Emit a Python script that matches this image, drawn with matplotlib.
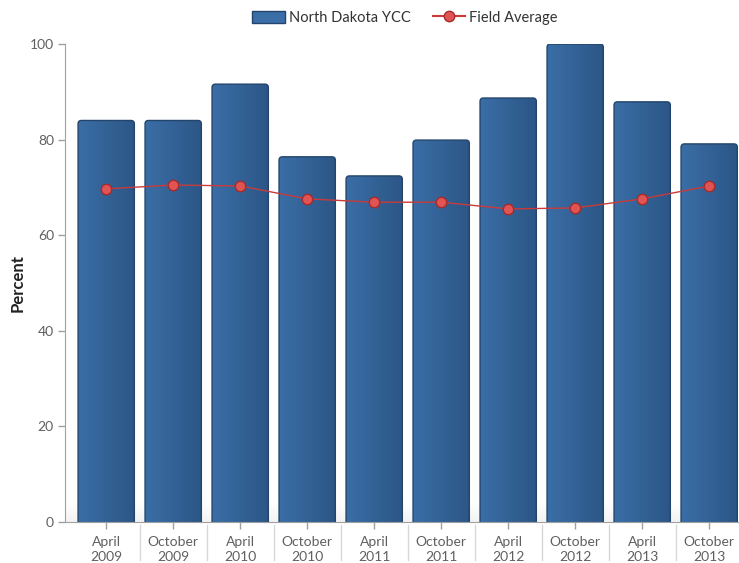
import numpy as np
import matplotlib
matplotlib.use("Agg")
from matplotlib import pyplot as plt
from matplotlib.patches import FancyBboxPatch, Rectangle
from matplotlib.lines import Line2D

plt.rcParams["font.family"] = ["Lato", "DejaVu Sans"]

periods = ["April\n2009", "October\n2009", "April\n2010", "October\n2010", "April\n2011",
           "October\n2011", "April\n2012", "October\n2012", "April\n2013", "October\n2013"]
nd_ycc = [84, 84, 91.6, 76.4, 72.4, 79.9, 88.7, 100, 87.9, 79.1]
field_avg = [69.7, 70.5, 70.3, 67.6, 66.9, 66.9, 65.5, 65.7, 67.6, 70.3]

bar_left = "#3a6ea6"
bar_right = "#2c5686"
bar_edge = "#23456c"
line_color = "#c93b3b"
text_gray = "#606060"

fig = plt.figure(figsize=(7.39, 5.63), dpi=100)
ax = fig.add_axes([65 / 739, 41 / 563, 673 / 739, 478 / 563])

x = np.arange(len(periods))
ax.set_xlim(-0.615, 9.43)
ax.set_ylim(0, 100)

# faint shading along the floor of the plot area
floor = np.linspace(1, 0, 50).reshape(-1, 1)
ax.imshow(floor, cmap="Greys", vmin=0, vmax=10, extent=(-0.615, 9.43, 0, 4),
          aspect="auto", origin="lower", zorder=0)

# bars with rounded corners and a horizontal gradient
width = 0.84
grad = np.linspace(0, 1, 64).reshape(1, -1)
cmap = matplotlib.colors.LinearSegmentedColormap.from_list("bar", [bar_left, bar_right])
aspect = (1 / 4.78) / (1 / 67.0)
for xi, v in zip(x, nd_ycc):
    box = FancyBboxPatch((xi - width / 2, -3), width, v + 3,
                         boxstyle="round,pad=0,rounding_size=0.05",
                         mutation_aspect=aspect, facecolor="none",
                         edgecolor=bar_edge, linewidth=1.0, zorder=3)
    ax.add_patch(box)
    im = ax.imshow(grad, cmap=cmap, extent=(xi - width / 2, xi + width / 2, -3, v),
                   aspect="auto", zorder=2)
    im.set_clip_path(box)

ax.plot(x, field_avg, color=line_color, linewidth=1.0, zorder=4,
        marker="o", markersize=7.5, markerfacecolor="#e05454",
        markeredgecolor="#a82a2a", markeredgewidth=1)

for side in ["top", "right"]:
    ax.spines[side].set_visible(False)
ax.spines["left"].set_color("#a0a0a0")
ax.spines["bottom"].set_color("#a0a0a0")
ax.spines["left"].set_zorder(5)
ax.spines["bottom"].set_zorder(5)

ax.set_yticks([0, 20, 40, 60, 80, 100])
ax.tick_params(axis="y", colors="#a0a0a0", labelcolor=text_gray, labelsize=10,
               length=5, width=1, pad=3)
ax.set_xticks(x)
ax.set_xticklabels(periods)
ax.tick_params(axis="x", colors="#a0a0a0", labelcolor=text_gray, labelsize=10,
               length=5, width=1, pad=5)
for lab in ax.get_xticklabels():
    lab.set_linespacing(1.3)

# separators between the category labels
for b in x[:-1] + 0.5:
    ax.plot([b, b], [-0.7, -8.0], color="#d8d8d8", linewidth=1, clip_on=False,
            transform=ax.transData)

ax.set_ylabel("Percent", fontsize=12, fontweight="bold", color="#222222")
ax.yaxis.set_label_coords(-0.058, 0.5)

handles = [Rectangle((0, 0), 1, 1, facecolor=bar_left, edgecolor=bar_edge),
           Line2D([0], [0], color=line_color, marker="o", markersize=7.5,
                  markerfacecolor="#e05454", markeredgecolor="#a82a2a")]
fig.legend(handles, ["North Dakota YCC", "Field Average"], loc="center",
           bbox_to_anchor=(405 / 739, 1 - 18 / 563), ncol=2, frameon=False,
           fontsize=10.5, handlelength=2.2, handleheight=0.9, columnspacing=1.5,
           handletextpad=0.3, labelcolor="#333333")

fig.savefig("out.png", dpi=100)
